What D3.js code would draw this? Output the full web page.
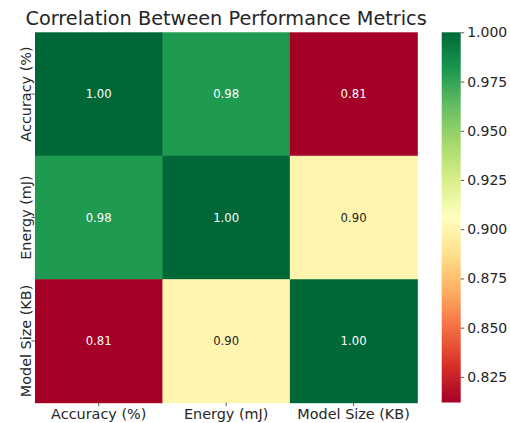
<!DOCTYPE html>
<html>
<head>
<meta charset="utf-8">
<script src="https://cdn.jsdelivr.net/npm/d3@7"></script>
<style>
  html, body { margin: 0; padding: 0; background: #fff; }
  svg { display: block; font-family: "DejaVu Sans", sans-serif; }
</style>
</head>
<body>
<svg id="chart" width="510" height="423"></svg>
<script>
// Metrics compared in the correlation matrix
const metrics = ["Accuracy (%)", "Energy (mJ)", "Model Size (KB)"];

// Pearson correlation coefficients, one row per metric
const rowAccuracy = [1.000, 0.980, 0.812];
const rowEnergy = [0.980, 1.000, 0.900];
const rowModelSize = [0.812, 0.900, 1.000];
const matrix = [rowAccuracy, rowEnergy, rowModelSize];

// Colour bar tick values
const colorbarTicks = [0.825, 0.850, 0.875, 0.900, 0.925, 0.950, 0.975, 1.000];

const chartTitle = "Correlation Between Performance Metrics";

const svg = d3.select("#chart");

// Heatmap area
const hm = { left: 35, right: 417.3, top: 32.3, bottom: 402.7 };
// Colour bar area
const cb = { left: 441.7, right: 460.7, top: 32.3, bottom: 402.5 };

// RdYlGn, linearly interpolated between its ColorBrewer anchors
const rdylgn = ["#a50026", "#d73027", "#f46d43", "#fdae61", "#fee08b", "#ffffbf",
                "#d9ef8b", "#a6d96a", "#66bd63", "#1a9850", "#006837"];
const cells = [];
matrix.forEach((row, i) => row.forEach((v, j) => cells.push({ i, j, v })));
const vmin = d3.min(cells, d => d.v);
const vmax = d3.max(cells, d => d.v);
const color = d3.scaleLinear()
  .domain(rdylgn.map((_, k) => vmin + (vmax - vmin) * k / (rdylgn.length - 1)))
  .range(rdylgn)
  .interpolate(d3.interpolateRgb)
  .clamp(true);

const x = d3.scaleBand().domain(metrics).range([hm.left, hm.right]).padding(0);
const y = d3.scaleBand().domain(metrics).range([hm.top, hm.bottom]).padding(0);

// Cells
svg.append("g").selectAll("rect")
  .data(cells)
  .join("rect")
  .attr("x", d => x(metrics[d.j]))
  .attr("y", d => y(metrics[d.i]))
  .attr("width", x.bandwidth() + 0.5)
  .attr("height", y.bandwidth() + 0.5)
  .attr("fill", d => color(d.v));

// Relative luminance decides light or dark annotation text
function luminance(c) {
  const rgb = d3.rgb(c);
  const lin = [rgb.r, rgb.g, rgb.b].map(u => {
    u /= 255;
    return u <= 0.03928 ? u / 12.92 : Math.pow((u + 0.055) / 1.055, 2.4);
  });
  return 0.2126 * lin[0] + 0.7152 * lin[1] + 0.0722 * lin[2];
}

svg.append("g").selectAll("text")
  .data(cells)
  .join("text")
  .attr("x", d => x(metrics[d.j]) + x.bandwidth() / 2)
  .attr("y", d => y(metrics[d.i]) + y.bandwidth() / 2)
  .attr("text-anchor", "middle")
  .attr("dominant-baseline", "central")
  .attr("font-size", "11.7px")
  .attr("fill", d => luminance(color(d.v)) > 0.408 ? "#262626" : "#ffffff")
  .text(d => d3.format(".2f")(d.v));

// Axes
const xAxis = svg.append("g")
  .attr("transform", `translate(0,${hm.bottom})`)
  .call(d3.axisBottom(x).tickSize(3.5).tickPadding(3));
const yAxis = svg.append("g")
  .attr("transform", `translate(${hm.left},0)`)
  .call(d3.axisLeft(y).tickSize(3.5).tickPadding(3));
[xAxis, yAxis].forEach(g => {
  g.select(".domain").remove();
  g.selectAll(".tick line").attr("stroke", "#333").attr("stroke-width", 0.8);
  g.selectAll(".tick text")
    .attr("font-family", "DejaVu Sans, sans-serif")
    .attr("font-size", "14.4px")
    .attr("fill", "#262626");
});
xAxis.selectAll(".tick text").attr("dy", null).attr("y", 16.2);
yAxis.selectAll(".tick text")
  .attr("x", null).attr("dy", null)
  .attr("text-anchor", "middle")
  .attr("transform", "translate(-4.5,0) rotate(-90)")
  .attr("y", 0);

// Colour bar
const cbScale = d3.scaleLinear().domain([vmin, vmax]).range([cb.bottom, cb.top]);
const grad = svg.append("defs").append("linearGradient")
  .attr("id", "cbgrad")
  .attr("x1", 0).attr("y1", 1).attr("x2", 0).attr("y2", 0);
d3.range(0, 1.0001, 0.02).forEach(t => {
  grad.append("stop")
    .attr("offset", t)
    .attr("stop-color", color(vmin + t * (vmax - vmin)));
});
svg.append("rect")
  .attr("x", cb.left)
  .attr("y", cb.top)
  .attr("width", cb.right - cb.left)
  .attr("height", cb.bottom - cb.top)
  .attr("fill", "url(#cbgrad)");

const cbAxis = svg.append("g")
  .attr("transform", `translate(${cb.right},0)`)
  .call(d3.axisRight(cbScale).tickValues(colorbarTicks).tickFormat(d3.format(".3f"))
    .tickSize(3.5).tickPadding(3));
cbAxis.select(".domain").remove();
cbAxis.selectAll(".tick line").attr("stroke", "#333").attr("stroke-width", 0.8);
cbAxis.selectAll(".tick text")
  .attr("font-family", "DejaVu Sans, sans-serif")
  .attr("font-size", "14px")
  .attr("fill", "#262626");

// Title
svg.append("text")
  .attr("x", (hm.left + hm.right) / 2)
  .attr("y", 25)
  .attr("text-anchor", "middle")
  .attr("font-size", "19.3px")
  .attr("fill", "#262626")
  .text(chartTitle);
</script>
</body>
</html>
